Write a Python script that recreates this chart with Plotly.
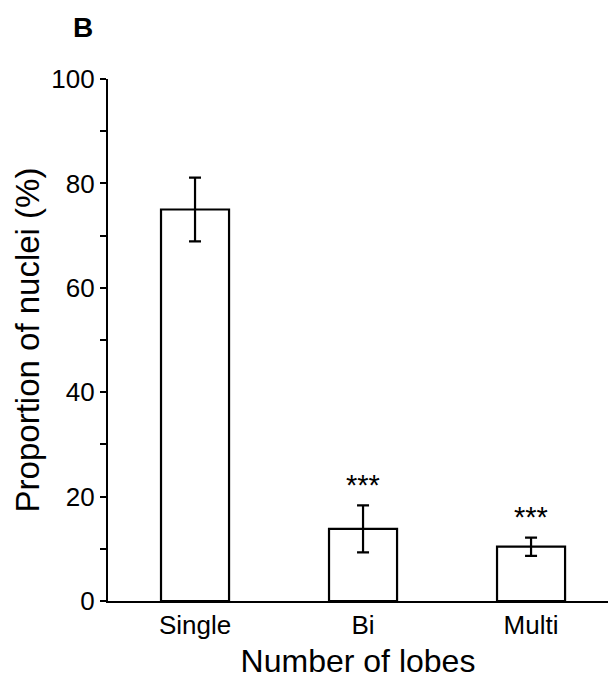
import plotly.graph_objects as go

categories = ["Single", "Bi", "Multi"]
values = [75.0, 13.8, 10.4]
errors = [6.1, 4.5, 1.75]
significance = ["", "***", "***"]

FONT = "Liberation Sans, Arial, sans-serif"
L, T, W, H = 108, 79, 500, 522.5

fig = go.Figure()
fig.add_trace(go.Bar(
    x=categories, y=values,
    width=0.405,
    marker=dict(color="white", line=dict(color="black", width=2.2)),
    error_y=dict(type="data", array=errors, visible=True, color="black", thickness=2.2, width=6),
    showlegend=False,
))

for c, v, e, s in zip(categories, values, errors, significance):
    if s:
        fig.add_annotation(x=c, y=v + e + 4, text=s, showarrow=False,
                           font=dict(family=FONT, size=29, color="black"),
                           yanchor="middle", xanchor="center")

fig.add_annotation(xref="paper", yref="paper",
                   x=(83 - L) / W, y=1 + (T - 27) / H,
                   xanchor="center", yanchor="middle",
                   text="<b>B</b>", showarrow=False,
                   font=dict(family=FONT, size=28, color="black"))

fig.update_layout(
    width=608, height=684,
    margin=dict(l=L, r=0, t=T, b=684 - T - H),
    plot_bgcolor="white", paper_bgcolor="white",
    font=dict(family=FONT, color="black"),
)
fig.update_xaxes(
    range=[-0.518, 2.458],
    showline=True, linecolor="black", linewidth=2.2,
    ticks="", showgrid=False, zeroline=False,
    tickfont=dict(family=FONT, size=26, color="black"),
    title=dict(text="Number of lobes", font=dict(family=FONT, size=32, color="black"), standoff=10),
)
fig.update_yaxes(
    range=[0, 100],
    showline=True, linecolor="black", linewidth=2.2,
    ticks="outside", ticklen=6, tickwidth=2, tickcolor="black",
    tickvals=[0, 20, 40, 60, 80, 100],
    minor=dict(tickvals=[10, 30, 50, 70, 90], ticks="outside", ticklen=6, tickwidth=2, tickcolor="black"),
    showgrid=False, zeroline=False,
    tickfont=dict(family=FONT, size=26, color="black"),
    title=dict(text="Proportion of nuclei (%)", font=dict(family=FONT, size=33, color="black"), standoff=2),
)

fig.write_html("out.html", config={"displayModeBar": False},
               post_script="document.body.style.margin='0';document.body.style.overflow='hidden';")
